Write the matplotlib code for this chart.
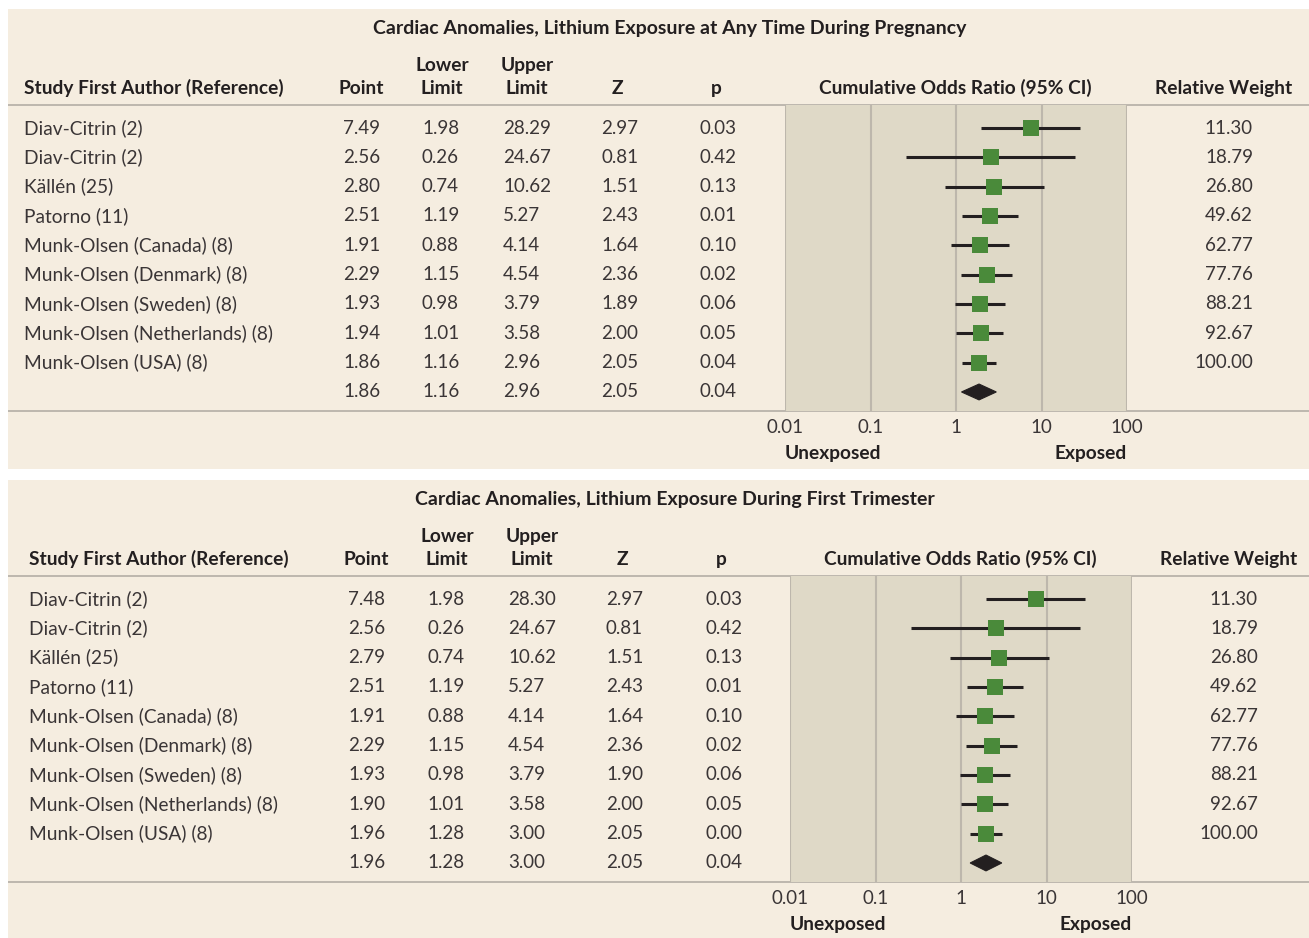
import numpy as np
import matplotlib
matplotlib.use("Agg")
import matplotlib.pyplot as plt
from matplotlib.transforms import blended_transform_factory

plt.rcParams["font.family"] = ["Lato", "DejaVu Sans"]

# data
studies = ["Diav-Citrin (2)", "Diav-Citrin (2)", "Källén (25)", "Patorno (11)",
           "Munk-Olsen (Canada) (8)", "Munk-Olsen (Denmark) (8)", "Munk-Olsen (Sweden) (8)",
           "Munk-Olsen (Netherlands) (8)", "Munk-Olsen (USA) (8)", ""]
weights = ["11.30", "18.79", "26.80", "49.62", "62.77", "77.76", "88.21", "92.67", "100.00", ""]

titles = ["Cardiac Anomalies, Lithium Exposure at Any Time During Pregnancy",
          "Cardiac Anomalies, Lithium Exposure During First Trimester"]

# last entry of each list is the pooled (summary) row
point_any = [7.49, 2.56, 2.80, 2.51, 1.91, 2.29, 1.93, 1.94, 1.86, 1.86]
lower_any = [1.98, 0.26, 0.74, 1.19, 0.88, 1.15, 0.98, 1.01, 1.16, 1.16]
upper_any = [28.29, 24.67, 10.62, 5.27, 4.14, 4.54, 3.79, 3.58, 2.96, 2.96]
z_any = [2.97, 0.81, 1.51, 2.43, 1.64, 2.36, 1.89, 2.00, 2.05, 2.05]
p_any = [0.03, 0.42, 0.13, 0.01, 0.10, 0.02, 0.06, 0.05, 0.04, 0.04]

point_first = [7.48, 2.56, 2.79, 2.51, 1.91, 2.29, 1.93, 1.90, 1.96, 1.96]
lower_first = [1.98, 0.26, 0.74, 1.19, 0.88, 1.15, 0.98, 1.01, 1.28, 1.28]
upper_first = [28.30, 24.67, 10.62, 5.27, 4.14, 4.54, 3.79, 3.58, 3.00, 3.00]
z_first = [2.97, 0.81, 1.51, 2.43, 1.64, 2.36, 1.90, 2.00, 2.05, 2.05]
p_first = [0.03, 0.42, 0.13, 0.01, 0.10, 0.02, 0.06, 0.05, 0.00, 0.04]

W, H = 1309, 938
BG = "#f5ede0"
SHADE = "#dfd9c7"
GRID = "#bdb7ac"
GREEN = "#4a8a3a"
INK = "#231f20"
TXT = "#3a3536"

fig = plt.figure(figsize=(W / 100, H / 100), dpi=100)
fig.patch.set_facecolor("white")


def px_axes(x0, y0, x1, y1):
    return fig.add_axes([x0 / W, 1 - y1 / H, (x1 - x0) / W, (y1 - y0) / H])


def draw_panel(top, bottom, dx, title, point, lower, upper, z, p):
    n = len(point)
    row0, step = top + 119, 29.33
    sep1, sep2 = top + 96, top + 402

    bg = px_axes(8, top, W, bottom)
    bg.set_facecolor(BG)
    bg.set_xlim(8, W)
    bg.set_ylim(bottom, top)
    bg.axis("off")
    bg.add_patch(plt.Rectangle((8, top), W - 8, bottom - top, color=BG, zorder=0))

    bg.text(670 + dx, top + 19, title, ha="center", va="center", fontsize=14, fontweight="bold", color=INK)
    hdr = dict(va="center", fontsize=13.8, fontweight="bold", color=INK)
    bg.text(24 + dx, top + 79, "Study First Author (Reference)", ha="left", **hdr)
    bg.text(361 + dx, top + 79, "Point", ha="center", **hdr)
    bg.text(442 + dx, top + 56, "Lower", ha="center", **hdr)
    bg.text(442 + dx, top + 79, "Limit", ha="center", **hdr)
    bg.text(527 + dx, top + 56, "Upper", ha="center", **hdr)
    bg.text(527 + dx, top + 79, "Limit", ha="center", **hdr)
    bg.text(617 + dx, top + 79, "Z", ha="center", **hdr)
    bg.text(716 + dx, top + 79, "p", ha="center", **hdr)
    bg.text(955 + dx, top + 79, "Cumulative Odds Ratio (95% CI)", ha="center", **hdr)
    bg.text(1224 + dx, top + 79, "Relative Weight", ha="center", **hdr)

    bg.plot([8, W], [sep1, sep1], color="#b3aea6", lw=1.2)
    bg.plot([8, W], [sep2, sep2], color="#b3aea6", lw=1.2)

    name = dict(va="center", fontsize=13.8, color=TXT)
    cell = dict(va="center", fontsize=13.5, color=TXT)
    for i in range(n):
        y = row0 + i * step
        bg.text(24 + dx, y, studies[i], ha="left", **name)
        bg.text(343 + dx, y, f"{point[i]:.2f}", ha="left", **cell)
        bg.text(422 + dx, y, f"{lower[i]:.2f}", ha="left", **cell)
        bg.text(503 + dx, y, f"{upper[i]:.2f}", ha="left", **cell)
        bg.text(601 + dx, y, f"{z[i]:.2f}", ha="left", **cell)
        bg.text(700 + dx, y, f"{p[i]:.2f}", ha="left", **cell)
        bg.text(1253 + dx, y, weights[i], ha="right", **cell)

    # forest plot in row units
    fx0, fx1 = 785 + dx, 1127 + dx
    ax = px_axes(fx0, sep1, fx1, sep2)
    ax.set_facecolor(SHADE)
    ax.set_xscale("log")
    ax.set_xlim(0.01, 100)
    ax.set_ylim((sep2 - row0) / step, (sep1 - row0) / step)
    for s in ax.spines.values():
        s.set_visible(False)
    for t in [0.01, 0.1, 1, 10, 100]:
        ax.axvline(t, color=GRID, lw=1.5, zorder=1)
    rows = np.arange(n - 1)
    ax.hlines(rows, lower[:-1], upper[:-1], color=INK, lw=2.2, zorder=2)
    ax.scatter(point[:-1], rows, marker="s", s=120, color=GREEN, zorder=3, linewidths=0)
    ys = n - 1
    ax.fill([lower[-1], point[-1], upper[-1], point[-1]],
            [ys, ys - 0.27, ys, ys + 0.27], facecolor=INK, edgecolor=INK, zorder=3, lw=0.8)
    ax.set_yticks([])
    ax.set_xticks([0.01, 0.1, 1, 10, 100])
    ax.set_xticklabels(["0.01", "0.1", "1", "10", "100"])
    ax.minorticks_off()
    ax.tick_params(axis="x", length=0, pad=6, labelsize=13.5, labelcolor=TXT)
    trans = blended_transform_factory(ax.transData, bg.transData)
    bg.text(0.01, top + 444, "Unexposed", transform=trans, ha="left", va="center",
            fontsize=13.8, fontweight="bold", color=INK)
    bg.text(100, top + 444, "Exposed", transform=trans, ha="right", va="center",
            fontsize=13.8, fontweight="bold", color=INK)


draw_panel(9, 469, 0, titles[0], point_any, lower_any, upper_any, z_any, p_any)
draw_panel(480, 938, 5, titles[1], point_first, lower_first, upper_first, z_first, p_first)

fig.savefig("out.png", dpi=100, facecolor="white")
